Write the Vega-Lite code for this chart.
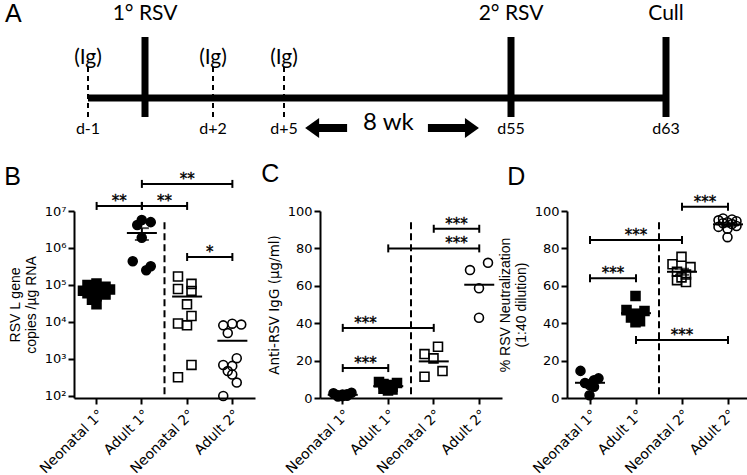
{
  "$schema": "https://vega.github.io/schema/vega-lite/v6.json",
  "padding": {"left": 4, "top": 0, "right": 0, "bottom": 0},
  "bounds": "flush",
  "spacing": 66,
  "resolve": {"scale": {"shape": "independent", "fill": "independent", "color": "independent"}},
  "config": {
    "font": "Arial",
    "view": {"stroke": null},
    "mark": {"color": "black"},
    "text": {"color": "black", "fill": "black"},
    "axis": {"domainColor": "black", "domainWidth": 2, "tickColor": "black", "tickWidth": 2, "tickSize": 6, "labelColor": "black", "labelFontSize": 13, "labelFont": "DejaVu Sans", "titleColor": "black", "titleFont": "Arial", "titleFontSize": 14, "titleFontWeight": "normal", "grid": false, "labelPadding": 2, "labelOverlap": false, "titlePadding": 7},
    "axisX": {"labelAngle": -45, "labelPadding": 3, "labelFontSize": 14},
    "title": {"fontSize": 25, "fontWeight": "normal", "font": "Arial", "anchor": "start", "color": "black"}
  },
  "datasets": {
    "events": [{"day": 0, "label": "1° RSV"}, {"day": 55, "label": "2° RSV"}, {"day": 63, "label": "Cull"}],
    "ig": [{"day": -1, "label": "(Ig)"}, {"day": 2, "label": "(Ig)"}, {"day": 5, "label": "(Ig)"}],
    "days": [{"day": -1, "label": "d-1"}, {"day": 2, "label": "d+2"}, {"day": 5, "label": "d+5"}, {"day": 55, "label": "d55"}, {"day": 63, "label": "d63"}],
    "span": [{"start": -1, "end": 63, "mid": 28, "label": "8 wk"}],
    "arrows": [{"dir": "left", "tail": 18.9, "head": 11.2}, {"dir": "right", "tail": 36.7, "head": 46.4}],
    "b": [
      {"group": "Neonatal 1°", "lane": 0, "value": 110000}, {"group": "Neonatal 1°", "lane": -2, "value": 100000}, {"group": "Neonatal 1°", "lane": 2, "value": 90000}, {"group": "Neonatal 1°", "lane": -1, "value": 80000}, {"group": "Neonatal 1°", "lane": 3, "value": 75000}, {"group": "Neonatal 1°", "lane": -3, "value": 70000}, {"group": "Neonatal 1°", "lane": 1, "value": 65000}, {"group": "Neonatal 1°", "lane": -2, "value": 60000}, {"group": "Neonatal 1°", "lane": 2, "value": 55000}, {"group": "Neonatal 1°", "lane": 0, "value": 50000}, {"group": "Neonatal 1°", "lane": -1, "value": 40000}, {"group": "Neonatal 1°", "lane": 0, "value": 30000},
      {"group": "Adult 1°", "lane": 0, "value": 5700000}, {"group": "Adult 1°", "lane": 2, "value": 5000000}, {"group": "Adult 1°", "lane": -1, "value": 4200000}, {"group": "Adult 1°", "lane": 0, "value": 1900000}, {"group": "Adult 1°", "lane": -2, "value": 440000}, {"group": "Adult 1°", "lane": 2, "value": 320000}, {"group": "Adult 1°", "lane": 1, "value": 250000},
      {"group": "Neonatal 2°", "lane": -2, "value": 170000}, {"group": "Neonatal 2°", "lane": -2, "value": 78000}, {"group": "Neonatal 2°", "lane": 1, "value": 107000}, {"group": "Neonatal 2°", "lane": 1, "value": 69000}, {"group": "Neonatal 2°", "lane": 0, "value": 30000}, {"group": "Neonatal 2°", "lane": 1, "value": 14500}, {"group": "Neonatal 2°", "lane": -2, "value": 9100}, {"group": "Neonatal 2°", "lane": 0, "value": 8100}, {"group": "Neonatal 2°", "lane": 1, "value": 690}, {"group": "Neonatal 2°", "lane": -2, "value": 320},
      {"group": "Adult 2°", "lane": -2, "value": 8100}, {"group": "Adult 2°", "lane": 0, "value": 9000}, {"group": "Adult 2°", "lane": 2, "value": 8500}, {"group": "Adult 2°", "lane": -1, "value": 5000}, {"group": "Adult 2°", "lane": 1, "value": 1050}, {"group": "Adult 2°", "lane": -2, "value": 690}, {"group": "Adult 2°", "lane": -1, "value": 470}, {"group": "Adult 2°", "lane": 0, "value": 650}, {"group": "Adult 2°", "lane": 0, "value": 380}, {"group": "Adult 2°", "lane": 1, "value": 230}, {"group": "Adult 2°", "lane": -2, "value": 100}
    ],
    "c": [
      {"group": "Neonatal 1°", "lane": -2, "value": 2.5}, {"group": "Neonatal 1°", "lane": -1, "value": 1.5}, {"group": "Neonatal 1°", "lane": 0, "value": 1.0}, {"group": "Neonatal 1°", "lane": 1, "value": 2.0}, {"group": "Neonatal 1°", "lane": 2, "value": 2.8}, {"group": "Neonatal 1°", "lane": -1, "value": 0.8}, {"group": "Neonatal 1°", "lane": 1, "value": 1.2}, {"group": "Neonatal 1°", "lane": 0, "value": 1.8},
      {"group": "Adult 1°", "lane": -2, "value": 8.5}, {"group": "Adult 1°", "lane": -1, "value": 7.5}, {"group": "Adult 1°", "lane": 2, "value": 8.0}, {"group": "Adult 1°", "lane": 0, "value": 6.5}, {"group": "Adult 1°", "lane": -1, "value": 5.0}, {"group": "Adult 1°", "lane": 1, "value": 4.5}, {"group": "Adult 1°", "lane": 1, "value": 6.0}, {"group": "Adult 1°", "lane": 0, "value": 7.0}, {"group": "Adult 1°", "lane": 0, "value": 4.0},
      {"group": "Neonatal 2°", "lane": -2, "value": 23.5}, {"group": "Neonatal 2°", "lane": 1, "value": 27.4}, {"group": "Neonatal 2°", "lane": 0, "value": 21.2}, {"group": "Neonatal 2°", "lane": 2, "value": 14.4}, {"group": "Neonatal 2°", "lane": -2, "value": 11.4},
      {"group": "Adult 2°", "lane": -2, "value": 68.4}, {"group": "Adult 2°", "lane": 2, "value": 72.3}, {"group": "Adult 2°", "lane": 0, "value": 58.7}, {"group": "Adult 2°", "lane": 0, "value": 42.9}
    ],
    "d": [
      {"group": "Neonatal 1°", "lane": -2, "value": 14.5}, {"group": "Neonatal 1°", "lane": 2, "value": 10.5}, {"group": "Neonatal 1°", "lane": 1, "value": 9.5}, {"group": "Neonatal 1°", "lane": -1, "value": 8.0}, {"group": "Neonatal 1°", "lane": 0, "value": 7.0}, {"group": "Neonatal 1°", "lane": 1, "value": 6.0}, {"group": "Neonatal 1°", "lane": 0, "value": 1.5},
      {"group": "Adult 1°", "lane": 0, "value": 54.5}, {"group": "Adult 1°", "lane": -2, "value": 47}, {"group": "Adult 1°", "lane": 2, "value": 46.5}, {"group": "Adult 1°", "lane": 0, "value": 45}, {"group": "Adult 1°", "lane": -1, "value": 43}, {"group": "Adult 1°", "lane": 1, "value": 41}, {"group": "Adult 1°", "lane": 0, "value": 40.5},
      {"group": "Neonatal 2°", "lane": 0, "value": 75.5}, {"group": "Neonatal 2°", "lane": -2, "value": 71.5}, {"group": "Neonatal 2°", "lane": 2, "value": 70}, {"group": "Neonatal 2°", "lane": -1, "value": 67.5}, {"group": "Neonatal 2°", "lane": 1, "value": 66}, {"group": "Neonatal 2°", "lane": 0, "value": 64.5}, {"group": "Neonatal 2°", "lane": -1, "value": 63}, {"group": "Neonatal 2°", "lane": 1, "value": 62},
      {"group": "Adult 2°", "lane": -1, "value": 96}, {"group": "Adult 2°", "lane": 1, "value": 95.5}, {"group": "Adult 2°", "lane": -2, "value": 95}, {"group": "Adult 2°", "lane": 2, "value": 94.5}, {"group": "Adult 2°", "lane": 0, "value": 94}, {"group": "Adult 2°", "lane": -1, "value": 93.5}, {"group": "Adult 2°", "lane": 1, "value": 93}, {"group": "Adult 2°", "lane": 2, "value": 92}, {"group": "Adult 2°", "lane": -2, "value": 91.5}, {"group": "Adult 2°", "lane": 0, "value": 90.5}, {"group": "Adult 2°", "lane": 0, "value": 86}
    ],
    "bsig": [
      {"from": "Neonatal 1°", "to": "Adult 1°", "y": 13700000, "label": "**", "mid": "Adult 1°", "pos": "edge"},
      {"from": "Adult 1°", "to": "Neonatal 2°", "y": 13700000, "label": "**", "mid": "Neonatal 2°", "pos": "edge"},
      {"from": "Adult 1°", "to": "Adult 2°", "y": 54000000, "label": "**", "mid": "Neonatal 2°", "pos": "center"},
      {"from": "Neonatal 2°", "to": "Adult 2°", "y": 570000, "label": "*", "mid": "Adult 2°", "pos": "edge"}
    ],
    "csig": [
      {"from": "Neonatal 1°", "to": "Adult 1°", "y": 16, "label": "***", "mid": "Adult 1°", "pos": "edge"},
      {"from": "Neonatal 1°", "to": "Neonatal 2°", "y": 37.5, "label": "***", "mid": "Adult 1°", "pos": "edge"},
      {"from": "Adult 1°", "to": "Adult 2°", "y": 80, "label": "***", "mid": "Adult 2°", "pos": "edge"},
      {"from": "Neonatal 2°", "to": "Adult 2°", "y": 90.5, "label": "***", "mid": "Adult 2°", "pos": "edge"}
    ],
    "dsig": [
      {"from": "Neonatal 1°", "to": "Adult 1°", "y": 64, "label": "***", "mid": "Adult 1°", "pos": "edge"},
      {"from": "Neonatal 1°", "to": "Neonatal 2°", "y": 84.5, "label": "***", "mid": "Adult 1°", "pos": "center"},
      {"from": "Adult 1°", "to": "Adult 2°", "y": 31, "label": "***", "mid": "Neonatal 2°", "pos": "center"},
      {"from": "Neonatal 2°", "to": "Adult 2°", "y": 102.3, "label": "***", "mid": "Adult 2°", "pos": "edge"}
    ]
  },
  "vconcat": [
    {
      "width": 678, "height": 145,
      "title": {"text": "A", "offset": -27, "dx": -69, "frame": "group"},
      "layer": [
        {"data": {"name": "span"}, "mark": {"type": "rule", "strokeWidth": 7, "color": "black"},
         "encoding": {
           "x": {"field": "start", "type": "quantitative", "scale": {"domain": [-1, 0, 2, 5, 55, 63], "range": [14, 71, 139, 210, 437, 592], "nice": false, "zero": false}, "axis": null},
           "x2": {"field": "end"},
           "y": {"datum": 0, "type": "quantitative", "scale": {"domain": [-47, 98], "nice": false, "zero": false}, "axis": null}}},
        {"data": {"name": "events"}, "mark": {"type": "rule", "strokeWidth": 7, "color": "black"},
         "encoding": {"x": {"field": "day", "type": "quantitative"}, "y": {"datum": -19, "type": "quantitative"}, "y2": {"datum": 61}}},
        {"data": {"name": "events"}, "mark": {"type": "text", "font": "Lato", "fontSize": 21, "baseline": "alphabetic", "fill": "black"},
         "encoding": {"x": {"field": "day", "type": "quantitative"}, "y": {"datum": 78, "type": "quantitative"}, "text": {"field": "label"}}},
        {"data": {"name": "ig"}, "mark": {"type": "rule", "strokeWidth": 2, "strokeDash": [5, 4], "color": "black"},
         "encoding": {"x": {"field": "day", "type": "quantitative"}, "y": {"datum": -19, "type": "quantitative"}, "y2": {"datum": 31}}},
        {"data": {"name": "ig"}, "mark": {"type": "text", "font": "Lato", "fontSize": 21, "baseline": "alphabetic", "fill": "black"},
         "encoding": {"x": {"field": "day", "type": "quantitative"}, "y": {"datum": 34, "type": "quantitative"}, "text": {"field": "label"}}},
        {"data": {"name": "days"}, "mark": {"type": "text", "font": "Lato", "fontSize": 16, "baseline": "alphabetic", "fill": "black"},
         "encoding": {"x": {"field": "day", "type": "quantitative"}, "y": {"datum": -36, "type": "quantitative"}, "text": {"field": "label"}}},
        {"data": {"name": "span"}, "mark": {"type": "text", "font": "Lato", "fontSize": 24, "baseline": "alphabetic", "fill": "black"},
         "encoding": {"x": {"field": "mid", "type": "quantitative"}, "y": {"datum": -32, "type": "quantitative"}, "text": {"field": "label"}}},
        {"data": {"name": "arrows"}, "mark": {"type": "rule", "strokeWidth": 8, "color": "black"},
         "encoding": {"x": {"field": "tail", "type": "quantitative"}, "x2": {"field": "head"}, "y": {"datum": -30, "type": "quantitative"}}},
        {"data": {"name": "arrows"}, "mark": {"type": "point", "filled": true, "size": 400, "color": "black", "opacity": 1},
         "encoding": {"x": {"field": "head", "type": "quantitative"}, "y": {"datum": -30, "type": "quantitative"},
           "shape": {"field": "dir", "type": "nominal", "scale": {"domain": ["left", "right"], "range": ["M-0.7,0L0.7,-1L0.7,1Z", "M0.7,0L-0.7,-1L-0.7,1Z"]}, "legend": null}}}
      ]
    },
    {
      "resolve": {"scale": {"shape": "independent", "fill": "independent", "color": "independent"}},
      "hconcat": [
        {
          "width": 181, "height": 187,
          "title": {"text": "B", "offset": -18, "dx": -4},
          "layer": [
            {"data": {"name": "b"}, "mark": {"type": "point", "filled": true, "size": 80, "stroke": "black", "strokeWidth": 1.6, "opacity": 1},
             "encoding": {
               "x": {"field": "group", "type": "nominal", "scale": {"type": "band", "domain": ["Neonatal 1°", "Adult 1°", "Neonatal 2°", "Adult 2°"], "paddingInner": 0, "paddingOuter": 0}, "axis": {"title": null}},
               "xOffset": {"field": "lane", "type": "quantitative", "scale": {"domain": [-4, 4], "range": [4.5, 40.5]}},
               "y": {"field": "value", "type": "quantitative", "scale": {"type": "log", "domain": [88, 10000000], "nice": false}, "title": ["RSV L gene", "copies /µg RNA"], "axis": {"values": [100, 1000, 10000, 100000, 1000000, 10000000], "labelOverlap": false, "titlePadding": 6, "labelExpr": "'10' + ['⁰','¹','²','³','⁴','⁵','⁶','⁷','⁸'][round(log(datum.value)/LN10)]"}},
               "shape": {"field": "group", "type": "nominal", "scale": {"domain": ["Neonatal 1°", "Adult 1°", "Neonatal 2°", "Adult 2°"], "range": ["square", "circle", "square", "circle"]}, "legend": null},
               "fill": {"field": "group", "type": "nominal", "scale": {"domain": ["Neonatal 1°", "Adult 1°", "Neonatal 2°", "Adult 2°"], "range": ["black", "black", "transparent", "transparent"]}, "legend": null}}},
            {"data": {"name": "b"}, "mark": {"type": "tick", "size": 30, "thickness": 2, "color": "black", "opacity": 1},
             "encoding": {"x": {"field": "group", "type": "nominal"}, "y": {"aggregate": "mean", "field": "value", "type": "quantitative"}}},
            {"data": {"name": "b"}, "transform": [{"filter": "datum.group == 'Adult 1°'"}], "mark": {"type": "errorbar", "extent": "stderr", "ticks": true, "size": 14, "thickness": 2, "color": "black"},
             "encoding": {"x": {"field": "group", "type": "nominal"}, "y": {"field": "value", "type": "quantitative", "title": ["RSV L gene", "copies /µg RNA"]}}},
            {"data": {"values": [{}]}, "mark": {"type": "rule", "strokeWidth": 2, "strokeDash": [7, 4], "color": "black"},
             "encoding": {"x": {"datum": "Neonatal 2°", "type": "nominal", "bandPosition": 0}, "y": {"datum": 5000000, "type": "quantitative"}, "y2": {"datum": 88}}},
            {"data": {"name": "bsig"}, "mark": {"type": "rule", "strokeWidth": 2, "color": "black"},
             "encoding": {"x": {"field": "from", "type": "nominal"}, "x2": {"field": "to"}, "y": {"field": "y", "type": "quantitative"}}},
            {"data": {"name": "bsig"}, "transform": [{"fold": ["from", "to"], "as": ["end", "cat"]}], "mark": {"type": "point", "shape": "M0,-1L0,1", "size": 64, "strokeWidth": 2, "color": "black", "filled": false, "opacity": 1},
             "encoding": {"x": {"field": "cat", "type": "nominal"}, "y": {"field": "y", "type": "quantitative"}}},
            {"data": {"name": "bsig"}, "transform": [{"filter": "datum.pos == 'edge'"}], "mark": {"type": "text", "fontSize": 15, "font": "DejaVu Sans", "baseline": "alphabetic", "fill": "black", "stroke": "black", "strokeWidth": 0.4},
             "encoding": {"x": {"field": "mid", "type": "nominal", "bandPosition": 0}, "y": {"field": "y", "type": "quantitative"}, "text": {"field": "label"}}},
            {"data": {"name": "bsig"}, "transform": [{"filter": "datum.pos == 'center'"}], "mark": {"type": "text", "fontSize": 15, "font": "DejaVu Sans", "baseline": "alphabetic", "fill": "black", "stroke": "black", "strokeWidth": 0.4},
             "encoding": {"x": {"field": "mid", "type": "nominal", "bandPosition": 0.5}, "y": {"field": "y", "type": "quantitative"}, "text": {"field": "label"}}}
          ]
        },
        {
          "width": 182, "height": 187,
          "title": {"text": "C", "offset": 18, "dx": -6},
          "layer": [
            {"data": {"name": "c"}, "mark": {"type": "point", "filled": true, "size": 80, "stroke": "black", "strokeWidth": 1.6, "opacity": 1},
             "encoding": {
               "x": {"field": "group", "type": "nominal", "scale": {"type": "band", "domain": ["Neonatal 1°", "Adult 1°", "Neonatal 2°", "Adult 2°"], "paddingInner": 0, "paddingOuter": 0}, "axis": {"title": null}},
               "xOffset": {"field": "lane", "type": "quantitative", "scale": {"domain": [-4, 4], "range": [4.5, 40.5]}},
               "y": {"field": "value", "type": "quantitative", "scale": {"domain": [0, 100], "nice": false}, "title": "Anti-RSV IgG (µg/ml)", "axis": {"values": [0, 20, 40, 60, 80, 100], "tickCount": 6, "labelOverlap": false, "titleFont": "DejaVu Sans", "titleFontSize": 13.5, "titlePadding": 6}},
               "shape": {"field": "group", "type": "nominal", "scale": {"domain": ["Neonatal 1°", "Adult 1°", "Neonatal 2°", "Adult 2°"], "range": ["circle", "square", "square", "circle"]}, "legend": null},
               "fill": {"field": "group", "type": "nominal", "scale": {"domain": ["Neonatal 1°", "Adult 1°", "Neonatal 2°", "Adult 2°"], "range": ["black", "black", "transparent", "transparent"]}, "legend": null}}},
            {"data": {"name": "c"}, "mark": {"type": "tick", "size": 30, "thickness": 2, "color": "black", "opacity": 1},
             "encoding": {"x": {"field": "group", "type": "nominal"}, "y": {"aggregate": "mean", "field": "value", "type": "quantitative"}}},
            {"data": {"values": [{}]}, "mark": {"type": "rule", "strokeWidth": 2, "strokeDash": [7, 4], "color": "black"},
             "encoding": {"x": {"datum": "Neonatal 2°", "type": "nominal", "bandPosition": 0}, "y": {"datum": 94, "type": "quantitative"}, "y2": {"datum": 0}}},
            {"data": {"name": "csig"}, "mark": {"type": "rule", "strokeWidth": 2, "color": "black"},
             "encoding": {"x": {"field": "from", "type": "nominal"}, "x2": {"field": "to"}, "y": {"field": "y", "type": "quantitative"}}},
            {"data": {"name": "csig"}, "transform": [{"fold": ["from", "to"], "as": ["end", "cat"]}], "mark": {"type": "point", "shape": "M0,-1L0,1", "size": 64, "strokeWidth": 2, "color": "black", "filled": false, "opacity": 1},
             "encoding": {"x": {"field": "cat", "type": "nominal"}, "y": {"field": "y", "type": "quantitative"}}},
            {"data": {"name": "csig"}, "transform": [{"filter": "datum.pos == 'edge'"}], "mark": {"type": "text", "fontSize": 15, "font": "DejaVu Sans", "baseline": "alphabetic", "fill": "black", "stroke": "black", "strokeWidth": 0.4},
             "encoding": {"x": {"field": "mid", "type": "nominal", "bandPosition": 0}, "y": {"field": "y", "type": "quantitative"}, "text": {"field": "label"}}}
          ]
        },
        {
          "width": 184, "height": 187,
          "title": {"text": "D", "offset": 5, "dx": 9},
          "layer": [
            {"data": {"name": "d"}, "mark": {"type": "point", "filled": true, "size": 80, "stroke": "black", "strokeWidth": 1.6, "opacity": 1},
             "encoding": {
               "x": {"field": "group", "type": "nominal", "scale": {"type": "band", "domain": ["Neonatal 1°", "Adult 1°", "Neonatal 2°", "Adult 2°"], "paddingInner": 0, "paddingOuter": 0}, "axis": {"title": null}},
               "xOffset": {"field": "lane", "type": "quantitative", "scale": {"domain": [-4, 4], "range": [4.5, 40.5]}},
               "y": {"field": "value", "type": "quantitative", "scale": {"domain": [0, 100], "nice": false}, "title": ["% RSV Neutralization", "(1:40 dilution)"], "axis": {"values": [0, 20, 40, 60, 80, 100], "tickCount": 6, "labelOverlap": false, "titlePadding": 6}},
               "shape": {"field": "group", "type": "nominal", "scale": {"domain": ["Neonatal 1°", "Adult 1°", "Neonatal 2°", "Adult 2°"], "range": ["circle", "square", "square", "circle"]}, "legend": null},
               "fill": {"field": "group", "type": "nominal", "scale": {"domain": ["Neonatal 1°", "Adult 1°", "Neonatal 2°", "Adult 2°"], "range": ["black", "black", "transparent", "transparent"]}, "legend": null}}},
            {"data": {"name": "d"}, "mark": {"type": "tick", "size": 30, "thickness": 2, "color": "black", "opacity": 1},
             "encoding": {"x": {"field": "group", "type": "nominal"}, "y": {"aggregate": "mean", "field": "value", "type": "quantitative"}}},
            {"data": {"name": "d"}, "mark": {"type": "errorbar", "extent": "stderr", "ticks": true, "size": 14, "thickness": 2, "color": "black"},
             "encoding": {"x": {"field": "group", "type": "nominal"}, "y": {"field": "value", "type": "quantitative", "title": ["% RSV Neutralization", "(1:40 dilution)"]}}},
            {"data": {"values": [{}]}, "mark": {"type": "rule", "strokeWidth": 2, "strokeDash": [7, 4], "color": "black"},
             "encoding": {"x": {"datum": "Neonatal 2°", "type": "nominal", "bandPosition": 0}, "y": {"datum": 94, "type": "quantitative"}, "y2": {"datum": 0}}},
            {"data": {"name": "dsig"}, "mark": {"type": "rule", "strokeWidth": 2, "color": "black"},
             "encoding": {"x": {"field": "from", "type": "nominal"}, "x2": {"field": "to"}, "y": {"field": "y", "type": "quantitative"}}},
            {"data": {"name": "dsig"}, "transform": [{"fold": ["from", "to"], "as": ["end", "cat"]}], "mark": {"type": "point", "shape": "M0,-1L0,1", "size": 64, "strokeWidth": 2, "color": "black", "filled": false, "opacity": 1},
             "encoding": {"x": {"field": "cat", "type": "nominal"}, "y": {"field": "y", "type": "quantitative"}}},
            {"data": {"name": "dsig"}, "transform": [{"filter": "datum.pos == 'edge'"}], "mark": {"type": "text", "fontSize": 15, "font": "DejaVu Sans", "baseline": "alphabetic", "fill": "black", "stroke": "black", "strokeWidth": 0.4},
             "encoding": {"x": {"field": "mid", "type": "nominal", "bandPosition": 0}, "y": {"field": "y", "type": "quantitative"}, "text": {"field": "label"}}},
            {"data": {"name": "dsig"}, "transform": [{"filter": "datum.pos == 'center'"}], "mark": {"type": "text", "fontSize": 15, "font": "DejaVu Sans", "baseline": "alphabetic", "fill": "black", "stroke": "black", "strokeWidth": 0.4},
             "encoding": {"x": {"field": "mid", "type": "nominal", "bandPosition": 0.5}, "y": {"field": "y", "type": "quantitative"}, "text": {"field": "label"}}}
          ]
        }
      ],
      "spacing": 65,
      "bounds": "flush"
    }
  ]
}
